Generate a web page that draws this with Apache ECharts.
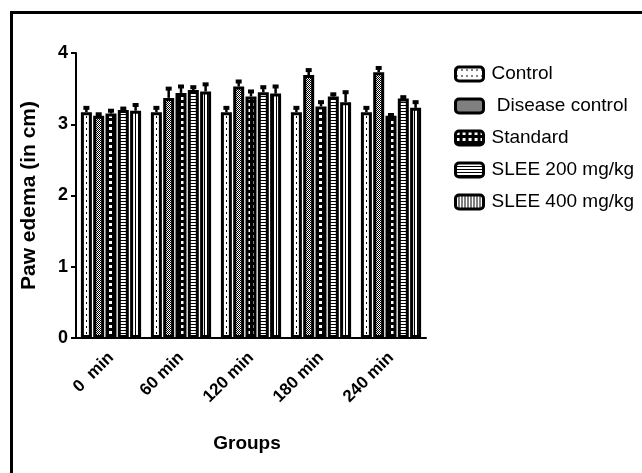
<!DOCTYPE html>
<html>
<head>
<meta charset="utf-8">
<script src="https://cdn.jsdelivr.net/npm/echarts@6/dist/echarts.min.js"></script>
<style>
  body { margin: 0; background: #fff; }
  #frame { position: absolute; left: 10px; top: 11px; width: 632px; height: 462px;
           border-left: 3px solid #000; border-top: 3px solid #000; box-sizing: border-box; }
  #main { position: absolute; left: 0; top: 0; width: 642px; height: 473px; }
</style>
</head>
<body>
<div id="frame"></div>
<div id="main"></div>
<script>
const groups = ['0  min', '60 min', '120 min', '180 min', '240 min'];
const seriesNames = ['Control', ' Disease control', 'Standard', 'SLEE 200 mg/kg', 'SLEE 400 mg/kg'];

// mean paw edema (cm) per group
const control     = [3.17, 3.17, 3.17, 3.17, 3.17];
const disease     = [3.12, 3.37, 3.53, 3.69, 3.73];
const standard    = [3.15, 3.44, 3.39, 3.25, 3.12];
const slee200     = [3.20, 3.48, 3.45, 3.39, 3.36];
const slee400     = [3.19, 3.46, 3.43, 3.31, 3.23];

// error (SEM) per group
const controlErr  = [0.06, 0.06, 0.06, 0.06, 0.06];
const diseaseErr  = [0.02, 0.13, 0.07, 0.07, 0.06];
const standardErr = [0.04, 0.09, 0.07, 0.06, 0.01];
const slee200Err  = [0.02, 0.04, 0.07, 0.03, 0.02];
const slee400Err  = [0.08, 0.10, 0.10, 0.14, 0.08];

const values = [control, disease, standard, slee200, slee400];
const errors = [controlErr, diseaseErr, standardErr, slee200Err, slee400Err];

// fill patterns, drawn on small canvases
function makePattern(w, h, draw) {
  const c = document.createElement('canvas');
  c.width = w; c.height = h;
  const ctx = c.getContext('2d');
  draw(ctx);
  return { image: c, repeat: 'repeat' };
}
const patterns = [
  makePattern(5, 6, ctx => { ctx.fillStyle = '#fff'; ctx.fillRect(0, 0, 5, 6); ctx.fillStyle = '#000'; ctx.fillRect(1, 2, 1, 2); }),
  makePattern(2, 2, ctx => { ctx.fillStyle = '#fff'; ctx.fillRect(0, 0, 2, 2); ctx.fillStyle = '#000'; ctx.fillRect(0, 0, 1, 1); ctx.fillRect(1, 1, 1, 1); }),
  makePattern(6, 6, ctx => { ctx.fillStyle = '#000'; ctx.fillRect(0, 0, 6, 6); ctx.fillStyle = '#fff'; ctx.fillRect(1, 1, 3, 3); }),
  makePattern(4, 3, ctx => { ctx.fillStyle = '#fff'; ctx.fillRect(0, 0, 4, 3); ctx.fillStyle = '#000'; ctx.fillRect(0, 0, 4, 1); }),
  makePattern(3, 4, ctx => { ctx.fillStyle = '#fff'; ctx.fillRect(0, 0, 3, 4); ctx.fillStyle = '#000'; ctx.fillRect(0, 0, 1, 4); })
];

const catGap = 0.14;
const barGap = 0.12;
const n = seriesNames.length;
const font = 'Liberation Sans, Arial, sans-serif';

const series = [];
seriesNames.forEach((name, i) => {
  series.push({
    name: name,
    type: 'bar',
    data: values[i],
    barCategoryGap: (catGap * 100) + '%',
    barGap: (barGap * 100) + '%',
    itemStyle: { color: patterns[i], borderColor: '#000', borderWidth: 3 },
    emphasis: { disabled: true }
  });
});
seriesNames.forEach((name, i) => {
  series.push({
    type: 'custom',
    silent: true,
    z: 5,
    data: values[i].map((v, k) => [k, v, errors[i][k]]),
    renderItem: function (params, api) {
      const k = api.value(0);
      const base = api.coord([k, api.value(1)]);
      const hi = api.coord([k, api.value(1) + api.value(2)]);
      const band = api.size([1, 0])[0];
      const inner = band * (1 - catGap);
      const bw = inner / (n + (n - 1) * barGap);
      const cx = base[0] - inner / 2 + bw / 2 + i * bw * (1 + barGap);
      return {
        type: 'group',
        children: [
          { type: 'line', shape: { x1: cx, y1: base[1], x2: cx, y2: hi[1] }, style: { stroke: '#000', lineWidth: 2.5 } },
          { type: 'line', shape: { x1: cx - 3, y1: hi[1], x2: cx + 3, y2: hi[1] }, style: { stroke: '#000', lineWidth: 4 } }
        ]
      };
    }
  });
});

const chart = echarts.init(document.getElementById('main'));
chart.setOption({
  animation: false,
  textStyle: { fontFamily: font },
  grid: { left: 76, right: 216, top: 53, bottom: 135 },
  legend: {
    data: seriesNames,
    orient: 'vertical',
    left: 449,
    top: 59,
    itemWidth: 28,
    itemHeight: 14,
    itemGap: 12,
    itemStyle: { borderColor: '#000', borderWidth: 3 },
    textStyle: { fontSize: 19, lineHeight: 20, color: '#000', fontFamily: font, padding: [0, 0, 0, 3] },
    selectedMode: false
  },
  xAxis: {
    type: 'category',
    data: groups,
    name: 'Groups',
    nameLocation: 'middle',
    nameGap: 96,
    nameTextStyle: { fontSize: 19, fontWeight: 'bold', color: '#000', padding: [0, 8, 0, 0] },
    axisLine: { lineStyle: { color: '#000', width: 2 } },
    axisTick: { alignWithLabel: true, length: 6, lineStyle: { width: 2 } },
    axisLabel: { rotate: 45, fontSize: 17, fontWeight: 'bold', color: '#000', margin: 17 }
  },
  yAxis: {
    type: 'value',
    min: 0,
    max: 4,
    interval: 1,
    name: 'Paw edema (in cm)',
    nameLocation: 'middle',
    nameGap: 36,
    nameTextStyle: { fontSize: 21, fontWeight: 'bold', color: '#000' },
    axisLine: { show: true, lineStyle: { color: '#000', width: 2 } },
    axisTick: { show: true, length: 5, lineStyle: { width: 2 } },
    axisLabel: { fontSize: 18, fontWeight: 'bold', color: '#000', margin: 8 },
    splitLine: { show: false }
  },
  series: series
});
</script>
</body>
</html>
